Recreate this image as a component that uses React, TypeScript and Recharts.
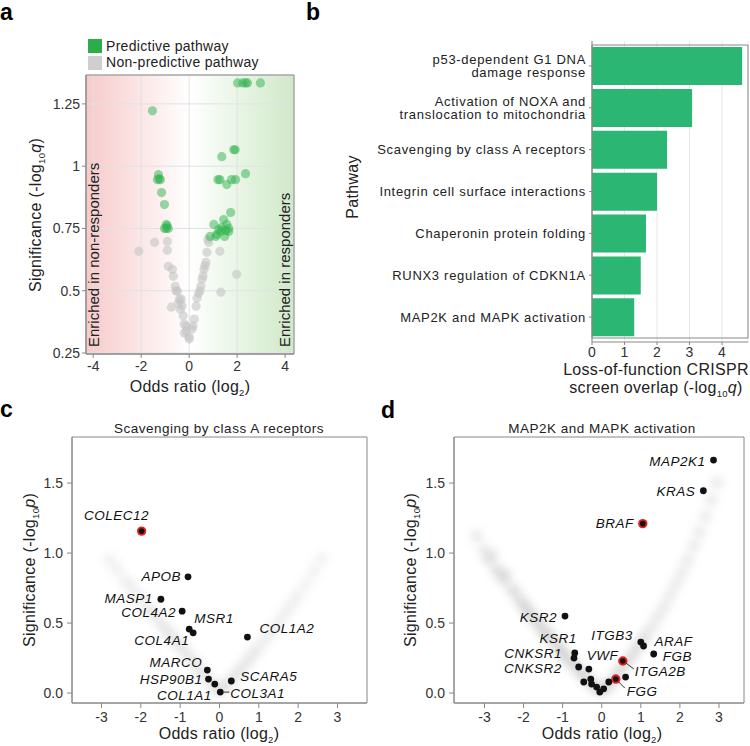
import React from "react"
import { ScatterChart, Scatter, BarChart, Bar, XAxis, YAxis, CartesianGrid, ReferenceArea } from "recharts"

const FONT = "'Liberation Sans', Arial, Helvetica, sans-serif"

// panel a: pathways, [log2 odds ratio, -log10 q]
const predictivePathways: [number, number][] = [
  [2.02, 1.334], [2.23, 1.334], [2.35, 1.334], [2.43, 1.334], [2.97, 1.334],
  [1.86, 1.066], [1.92, 1.066], [1.36, 1.038],
  [1.2, 0.946], [1.28, 0.946], [1.57, 0.926], [1.77, 0.946], [1.93, 0.946], [2.35, 0.97],
  [1.73, 0.814], [1.44, 0.786], [1.03, 0.766], [1.24, 0.746], [1.36, 0.754], [1.57, 0.766],
  [1.65, 0.738], [1.32, 0.738], [1.15, 0.726], [0.87, 0.718], [1.11, 0.718], [1.48, 0.718],
  [1.65, 0.75], [1.52, 0.742],
  [-1.53, 1.222], [-1.28, 0.966], [-1.32, 0.946], [-1.2, 0.946], [-1.25, 0.95], [-1.15, 0.894],
  [-1.03, 0.846], [-0.95, 0.766], [-0.95, 0.75], [-0.87, 0.75], [-1.03, 0.75], [-0.92, 0.76],
]
const otherPathways: [number, number][] = [
  [-2.1, 0.658], [-1.44, 0.694], [-0.91, 0.698], [-0.91, 0.662], [-0.87, 0.598], [-0.7, 0.586],
  [-0.66, 0.558], [-0.58, 0.518], [-0.49, 0.498], [-0.41, 0.466], [-0.37, 0.426], [-0.74, 0.434],
  [-0.21, 0.366], [-0.12, 0.338], [-0.12, 0.358], [0, 0.306], [-0.2, 0.33], [0.16, 0.358],
  [-0.33, 0.466], [-0.25, 0.4], [-0.3, 0.44], [-0.55, 0.5], [-0.45, 0.45],
  [0.21, 0.386], [0.12, 0.346], [0, 0.314], [0.29, 0.438], [0.33, 0.47], [0.49, 0.518],
  [0.54, 0.546], [0.62, 0.586], [0.7, 0.614], [0.74, 0.654], [0.82, 0.694], [0.78, 0.706],
  [0.45, 0.5], [0.58, 0.56], [0.66, 0.6], [0.4, 0.49],
  [1.28, 0.658], [1.98, 0.566], [1.32, 0.494],
]

// panel b
const pathwayNames = [
  "p53-dependent G1 DNA\ndamage response",
  "Activation of NOXA and\ntranslocation to mitochondria",
  "Scavenging by class A receptors",
  "Integrin cell surface interactions",
  "Chaperonin protein folding",
  "RUNX3 regulation of CDKN1A",
  "MAP2K and MAPK activation",
]
const crisprOverlap = [4.62, 3.08, 2.31, 2.0, 1.66, 1.5, 1.3]

// panel c: Scavenging by class A receptors
const scavGenes = ["COLEC12", "APOB", "MASP1", "COL4A2", "MSR1", "COL4A1", "COL1A2", "MARCO", "HSP90B1", "COL1A1", "COL3A1", "SCARA5"]
const scavOR = [-1.98, -0.8, -1.49, -0.95, -0.77, -0.67, 0.71, -0.31, -0.28, -0.12, 0.02, 0.3]
const scavSig = [1.157, 0.83, 0.67, 0.585, 0.457, 0.43, 0.4, 0.164, 0.1, 0.064, 0.007, 0.086]
const scavHits = ["COLEC12"]
const scavBackground: [number, number][] = [
  [-2.8, 0.95], [-2.6, 0.88], [-2.4, 0.8], [-2.25, 0.76], [-2.1, 0.7], [-1.95, 0.66], [-1.8, 0.6],
  [-1.7, 0.57], [-1.55, 0.52], [-1.45, 0.48], [-1.35, 0.45], [-1.25, 0.42], [-1.15, 0.38],
  [-1.05, 0.35], [-0.95, 0.32], [-0.85, 0.28], [-0.75, 0.25], [-0.65, 0.22], [-0.55, 0.18],
  [-0.45, 0.15], [-0.35, 0.12], [-0.25, 0.08], [-0.15, 0.05], [-0.05, 0.02],
  [0.05, 0.02], [0.15, 0.05], [0.25, 0.08], [0.35, 0.11], [0.45, 0.14], [0.55, 0.17], [0.65, 0.21],
  [0.75, 0.24], [0.85, 0.28], [0.95, 0.31], [1.1, 0.36], [1.25, 0.41], [1.4, 0.46], [1.55, 0.52],
  [1.7, 0.58], [1.85, 0.64], [2.0, 0.7], [2.2, 0.78], [2.4, 0.87], [2.6, 0.96],
]

// panel d: MAP2K and MAPK activation
const mapkGenes = ["MAP2K1", "KRAS", "BRAF", "KSR2", "ITGB3", "ARAF", "FGB", "ITGA2B", "FGG", "KSR1", "CNKSR1", "CNKSR2", "VWF",
  "", "", "", "", "", "", "", ""]
const mapkOR = [2.86, 2.6, 1.05, -0.94, 1.0, 1.07, 1.33, 0.54, 0.36, -0.69, -0.71, -0.59, -0.33,
  0.61, 0.18, -0.46, -0.28, -0.26, -0.13, -0.05, 0.05]
const mapkSig = [1.664, 1.445, 1.21, 0.55, 0.364, 0.336, 0.279, 0.229, 0.1, 0.286, 0.25, 0.186, 0.171,
  0.114, 0.079, 0.079, 0.1, 0.064, 0.043, 0.007, 0.03]
const mapkHits = ["BRAF", "ITGA2B", "FGG"]
const mapkBackground: [number, number][] = [
  [-3.2, 1.12], [-3.0, 1.02], [-2.9, 0.95], [-2.8, 0.98], [-2.7, 0.88], [-2.6, 0.86], [-2.5, 0.8],
  [-2.45, 0.84], [-2.3, 0.74], [-2.2, 0.72], [-2.1, 0.66], [-2.0, 0.64], [-1.95, 0.6], [-1.85, 0.58],
  [-1.8, 0.55], [-1.7, 0.52], [-1.6, 0.5], [-1.55, 0.46], [-1.45, 0.44], [-1.4, 0.41], [-1.3, 0.4],
  [-1.2, 0.36], [-1.1, 0.33], [-1.05, 0.3], [-0.95, 0.28], [-0.9, 0.25], [-0.8, 0.22], [-0.7, 0.2],
  [-0.6, 0.17], [-0.5, 0.14], [-0.45, 0.12], [-0.35, 0.09], [-0.25, 0.07], [-0.15, 0.04], [-0.05, 0.02],
  [0.05, 0.02], [0.15, 0.05], [0.25, 0.08], [0.35, 0.12], [0.45, 0.15], [0.55, 0.19], [0.65, 0.22],
  [0.75, 0.26], [0.85, 0.3], [0.95, 0.34], [1.05, 0.38], [1.15, 0.42], [1.3, 0.48], [1.45, 0.55],
  [1.6, 0.62], [1.75, 0.7], [1.9, 0.78], [2.05, 0.86], [2.2, 0.95], [2.35, 1.05], [2.5, 1.15],
  [2.65, 1.26], [2.8, 1.38], [2.95, 1.5],
]

type Spot = { dx: number; dy: number; anchor: "start" | "middle" | "end"; lead?: number[] }

// where each gene label sits relative to its dot
const scavSpots: Record<string, Spot> = {
  COLEC12: { dx: -25, dy: -16, anchor: "middle" },
  APOB: { dx: -7, dy: 0, anchor: "end" },
  MASP1: { dx: -8, dy: -1, anchor: "end" },
  COL4A2: { dx: -6, dy: 1, anchor: "end" },
  MSR1: { dx: 5, dy: -11, anchor: "start" },
  COL4A1: { dx: -4, dy: 8, anchor: "end" },
  COL1A2: { dx: 12, dy: -9, anchor: "start" },
  MARCO: { dx: -5, dy: -8, anchor: "end" },
  HSP90B1: { dx: -6, dy: 0, anchor: "end" },
  COL1A1: { dx: -3, dy: 11, anchor: "end" },
  COL3A1: { dx: 10, dy: 1, anchor: "start", lead: [3, 0, 9, 0] },
  SCARA5: { dx: 9, dy: -5, anchor: "start" },
}
const mapkSpots: Record<string, Spot> = {
  MAP2K1: { dx: -8, dy: 1, anchor: "end" },
  KRAS: { dx: -8, dy: 1, anchor: "end" },
  BRAF: { dx: -9, dy: 0, anchor: "end" },
  KSR2: { dx: -8, dy: 1, anchor: "end" },
  KSR1: { dx: 2, dy: -15, anchor: "end" },
  CNKSR1: { dx: -12, dy: -5, anchor: "end" },
  CNKSR2: { dx: -17, dy: 1, anchor: "end" },
  VWF: { dx: -2, dy: -14, anchor: "start" },
  ITGB3: { dx: -8, dy: -7, anchor: "end" },
  ARAF: { dx: 11, dy: -5, anchor: "start" },
  FGB: { dx: 9, dy: 2, anchor: "start" },
  ITGA2B: { dx: 12, dy: 10, anchor: "start", lead: [3, 2, 11, 8] },
  FGG: { dx: 11, dy: 12, anchor: "start", lead: [3, 3, 9, 9] },
}

const tickStyle = { fill: "#333", fontSize: 14, fontFamily: FONT }

function PanelA() {
  const pred = predictivePathways.map(([x, y]) => ({ x, y }))
  const other = otherPathways.map(([x, y]) => ({ x, y }))
  return (
    <div style={{ position: "absolute", left: 0, top: 0 }}>
      <ScatterChart width={300} height={390} margin={{ top: 75, right: 6, bottom: 14, left: 0 }}>
        <CartesianGrid fill="url(#gradA)" fillOpacity={1} stroke="#e2e2e2" />
        <XAxis type="number" dataKey="x" domain={[-4.3, 4.37]} allowDataOverflow ticks={[-4, -2, 0, 2, 4]}
          height={22} tickSize={4} tickMargin={3} stroke="#888" tick={tickStyle} />
        <YAxis type="number" dataKey="y" domain={[0.246, 1.366]} allowDataOverflow ticks={[0.25, 0.5, 0.75, 1, 1.25]}
          width={86} tickSize={4} tickMargin={2} stroke="#888" tick={tickStyle} />
        <Scatter data={other} isAnimationActive={false}
          shape={(p: any) => <circle cx={p.cx} cy={p.cy} r={4.6} fill="#c4c4c4" fillOpacity={0.6} />} />
        <Scatter data={pred} isAnimationActive={false}
          shape={(p: any) => <circle cx={p.cx} cy={p.cy} r={4.6} fill="#2eb34c" fillOpacity={0.5} />} />
        <ReferenceArea x1={-4.3} x2={4.37} fill="none" stroke="#888" ifOverflow="visible" />
      </ScatterChart>
    </div>
  )
}

function PathwayTick({ x, y, payload }: any) {
  const lines = String(payload.value).split("\n")
  return (
    <text x={x} y={y} textAnchor="end" fill="#222" fontSize={13} letterSpacing={0.7} fontFamily={FONT}>
      {lines.map((l, i) => (
        <tspan key={i} x={x} dy={i === 0 ? (lines.length === 1 ? 4.5 : -1.5) : 13}>{l}</tspan>
      ))}
    </text>
  )
}

function PanelB() {
  const rows = pathwayNames.map((name, i) => ({ name, value: crisprOverlap[i] }))
  return (
    <div style={{ position: "absolute", left: 300, top: 0 }}>
      <BarChart width={450} height={400} data={rows} layout="vertical" barCategoryGap="5%"
        margin={{ top: 41, right: 2, bottom: 38, left: 0 }}>
        <CartesianGrid horizontal={false} stroke="#e6e6e6" />
        <XAxis type="number" domain={[0, 4.8]} allowDataOverflow ticks={[0, 1, 2, 3, 4]}
          height={20} tickSize={3} tickMargin={2} stroke="#888" tick={tickStyle} />
        <YAxis type="category" dataKey="name" width={292} interval={0} padding={{ top: 4, bottom: 4 }}
          tickSize={3} tickMargin={3} stroke="#888" tick={<PathwayTick />} />
        <Bar dataKey="value" fill="#2bb673" isAnimationActive={false} />
        <ReferenceArea x1={0} x2={4.8} fill="none" stroke="#888" ifOverflow="visible" />
      </BarChart>
    </div>
  )
}

function geneDot(p: any, hits: string[], spots: Record<string, Spot>) {
  const name: string = p.payload?.name ?? p.name ?? ""
  const s = spots[name]
  const hit = hits.includes(name)
  return (
    <g>
      {hit && <circle cx={p.cx} cy={p.cy} r={4.7} fill="#e3241b" />}
      <circle cx={p.cx} cy={p.cy} r={hit ? 2.8 : 3.4} fill="#111" />
      {s && s.lead && (
        <line x1={p.cx + s.lead[0]} y1={p.cy + s.lead[1]} x2={p.cx + s.lead[2]} y2={p.cy + s.lead[3]}
          stroke="#222" strokeWidth={0.9} />
      )}
      {s && (
        <text x={p.cx + s.dx} y={p.cy + s.dy} textAnchor={s.anchor} dominantBaseline="central"
          fontStyle="italic" fontSize={13.5} letterSpacing={0.5} fontFamily={FONT} fill="#111">{name}</text>
      )}
    </g>
  )
}

function Volcano(props: {
  left: number; genes: string[]; ors: number[]; sigs: number[]; hits: string[]
  cloud: [number, number][]; hazeOpacity: number; xDomain: [number, number]; spots: Record<string, Spot>
  axisWidth: number; rightMargin: number
}) {
  const { left, genes, ors, sigs, hits, cloud, hazeOpacity, xDomain, spots, axisWidth, rightMargin } = props
  const pts = genes.map((name, i) => ({ name, x: ors[i], y: sigs[i] }))
  const bg = cloud.map(([x, y]) => ({ x, y }))
  return (
    <div style={{ position: "absolute", left, top: 400 }}>
      <ScatterChart width={375} height={346} margin={{ top: 37, right: rightMargin, bottom: 21, left: 0 }}>
        <XAxis type="number" dataKey="x" domain={xDomain} allowDataOverflow ticks={[-3, -2, -1, 0, 1, 2, 3]}
          height={22} tickSize={5} tickMargin={4} stroke="#888" tick={tickStyle} />
        <YAxis type="number" dataKey="y" domain={[-0.071, 1.829]} allowDataOverflow ticks={[0, 0.5, 1, 1.5]}
          tickFormatter={(v: number) => v.toFixed(1)} width={axisWidth} tickSize={5} tickMargin={4}
          stroke="#888" tick={tickStyle} />
        <Scatter data={bg} isAnimationActive={false}
          shape={(p: any) => (
            <circle cx={p.cx} cy={p.cy} r={7} fill="#8a8a8a" fillOpacity={hazeOpacity} filter="url(#haze)" />
          )} />
        <Scatter data={pts} isAnimationActive={false} shape={(p: any) => geneDot(p, hits, spots)} />
        <ReferenceArea x1={xDomain[0]} x2={xDomain[1]} fill="none" stroke="#888" ifOverflow="visible" />
      </ScatterChart>
    </div>
  )
}

function LogLabel({ x, y, letter }: { x: number; y: number; letter: string }) {
  return (
    <text transform={`translate(${x},${y}) rotate(-90)`} textAnchor="middle" fontSize={16} letterSpacing={0.3}>
      Significance (-log<tspan fontSize={9.5} dy={4}>10</tspan>
      <tspan dy={-4} fontStyle="italic">{letter}</tspan>)
    </text>
  )
}

function OddsLabel({ x, y }: { x: number; y: number }) {
  return (
    <text x={x} y={y} textAnchor="middle" fontSize={16} letterSpacing={0.3}>
      Odds ratio (log<tspan fontSize={9.5} dy={4}>2</tspan><tspan dy={-4}>)</tspan>
    </text>
  )
}

function Overlay() {
  return (
    <svg width={750} height={746} style={{ position: "absolute", left: 0, top: 0, pointerEvents: "none" }}
      fontFamily={FONT} fill="#222">
      <defs>
        <linearGradient id="gradA" x1="0" y1="0" x2="1" y2="0">
          <stop offset="0%" stopColor="#f7caca" />
          <stop offset="50%" stopColor="#ffffff" />
          <stop offset="100%" stopColor="#cfe9c8" />
        </linearGradient>
        <filter id="haze" x="-100%" y="-100%" width="300%" height="300%">
          <feGaussianBlur stdDeviation="3.5" />
        </filter>
      </defs>
      <g fontWeight="bold" fontSize={23} fill="#000">
        <text x={0} y={20}>a</text>
        <text x={306} y={20}>b</text>
        <text x={0} y={417}>c</text>
        <text x={381} y={418}>d</text>
      </g>
      <rect x={88} y={39} width={14} height={14} fill="#2bad4a" />
      <rect x={88} y={56} width={14} height={14} fill="#cfcfcf" />
      <text x={106} y={51} fontSize={14} letterSpacing={0.3}>Predictive pathway</text>
      <text x={106} y={67} fontSize={14} letterSpacing={0.3}>Non-predictive pathway</text>
      <text transform="translate(99,347) rotate(-90)" fontSize={15}>Enriched in non-responders</text>
      <text transform="translate(290,347) rotate(-90)" fontSize={15}>Enriched in responders</text>
      <LogLabel x={41} y={215} letter="q" />
      <OddsLabel x={190} y={392} />
      <text transform="translate(358,187) rotate(-90)" textAnchor="middle" fontSize={16} letterSpacing={0.3}>Pathway</text>
      <text x={656} y={375} textAnchor="middle" fontSize={16} letterSpacing={0.3}>Loss-of-function CRISPR</text>
      <text x={656} y={393} textAnchor="middle" fontSize={16} letterSpacing={0.3}>
        screen overlap (-log<tspan fontSize={9.5} dy={4}>10</tspan><tspan dy={-4} fontStyle="italic">q</tspan>)
      </text>
      <text x={219} y={433} textAnchor="middle" fontSize={13.5} letterSpacing={0.5}>Scavenging by class A receptors</text>
      <text x={602} y={433} textAnchor="middle" fontSize={13.5} letterSpacing={0.5}>MAP2K and MAPK activation</text>
      <LogLabel x={35} y={570} letter="p" />
      <LogLabel x={416} y={570} letter="p" />
      <OddsLabel x={219} y={739} />
      <OddsLabel x={602} y={739} />
    </svg>
  )
}

export default function App() {
  return (
    <div style={{ position: "absolute", left: 0, top: 0, width: 750, height: 746, background: "#fff", fontFamily: FONT }}>
      <PanelA />
      <PanelB />
      <Volcano left={0} genes={scavGenes} ors={scavOR} sigs={scavSig} hits={scavHits} cloud={scavBackground}
        hazeOpacity={0.09} xDomain={[-3.75, 3.75]} spots={scavSpots} axisWidth={72} rightMargin={8} />
      <Volcano left={375} genes={mapkGenes} ors={mapkOR} sigs={mapkSig} hits={mapkHits} cloud={mapkBackground}
        hazeOpacity={0.14} xDomain={[-3.78, 3.64]} spots={mapkSpots} axisWidth={79} rightMargin={6} />
      <Overlay />
    </div>
  )
}
